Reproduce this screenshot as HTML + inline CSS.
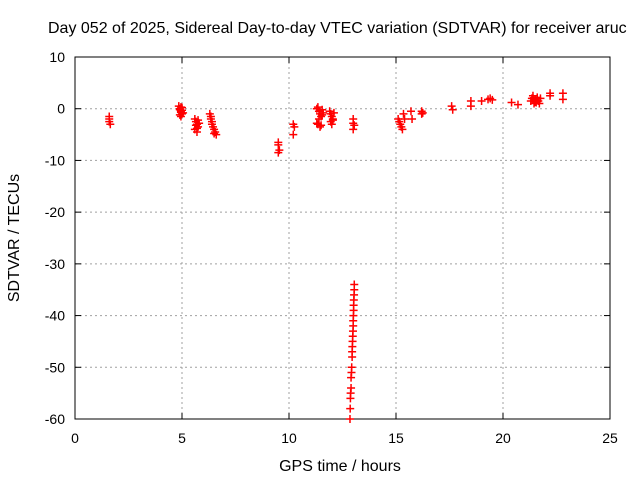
<!DOCTYPE html>
<html><head><meta charset="utf-8"><style>
body{margin:0;background:#fff}
text{font-family:"Liberation Sans",sans-serif;font-size:14px;fill:#000}
text.big{font-size:16px}
</style></head><body>
<svg id="c" width="640" height="480"></svg>
<script>
const xTicks=[0,5,10,15,20,25];
const yTicks=[10,0,-10,-20,-30,-40,-50,-60];
const hours=[1.6,1.6,1.6,1.65,
4.85,4.9,4.95,5.0,4.9,4.95,5.0,5.05,4.9,4.95,5.0,4.95,
5.6,5.65,5.7,5.75,5.6,5.7,5.75,5.65,5.7,5.8,
6.3,6.35,6.4,6.45,6.5,6.55,6.6,6.4,6.5,6.35,
9.5,9.5,9.55,9.5,
10.2,10.25,10.2,
11.3,11.35,11.4,11.45,11.5,11.55,11.6,11.35,11.45,11.5,11.3,11.4,11.55,
11.9,11.95,12.0,12.05,12.1,11.95,12.0,12.05,
13.0,13.0,13.0,13.05,
15.1,15.15,15.2,15.25,15.3,15.4,15.35,
15.7,15.75,16.2,16.2,16.25,
17.6,17.65,18.5,18.5,19.0,19.3,19.4,19.5,20.4,20.7,
21.3,21.35,21.4,21.45,21.5,21.55,21.6,21.65,21.7,21.4,21.5,21.6,21.75,
22.2,22.2,22.8,22.8,
13.05,13.05,13.04,13.03,13.02,13.02,13.01,13.0,13.0,12.99,12.98,12.97,12.96,12.95,12.95,12.93,12.92,12.9,12.9,12.88,12.87,12.86,12.85];
const values=[-1.5,-2,-2.5,-3,
0.5,0,-0.5,-1,-1.2,0.3,-0.3,-0.8,-0.2,-1.5,0.2,-0.7,
-2,-2.5,-3,-3.5,-4,-4.5,-2.2,-3.2,-3.8,-2.8,
-1,-1.5,-2.5,-3.5,-4,-4.5,-5,-3,-4.8,-2,
-6.5,-7,-8,-8.5,
-3,-3.5,-5,
0,0.3,-0.5,-1,-1.5,-0.2,-0.8,-3,-3.5,-3.2,-2.8,-2,-1.2,
-0.5,-1,-1.5,-2,-0.8,-2.5,-3,-2.2,
-2,-2.8,-4,-3.2,
-2,-2.5,-3,-3.5,-4,-2,-1,
-0.5,-2,-0.5,-1,-0.8,
0.5,-0.2,1.5,0.5,1.5,1.8,2,1.7,1.2,0.8,
1.5,2,2.5,1,1.8,1.2,2.2,1.5,1,2,1.3,1.7,2,
3,2.5,3,1.8,
-34,-35,-36,-37,-38,-39,-40,-41,-42,-43,-44,-45,-46,-47,-48,-50,-51,-52,-54,-55,-56,-58,-60];
const L=75,R=610,T=57,B=419;
const X=h=>L+(h-0)/25*(R-L), Y=v=>T+(10-v)/70*(B-T);
const s=document.getElementById('c'),NS='http://www.w3.org/2000/svg';
function mk(t,a,p){const e=document.createElementNS(NS,t);for(const k in a)e.setAttribute(k,a[k]);(p||s).appendChild(e);return e;}
const g=mk('g',{});


xTicks.forEach(t=>{const x=X(t);
 if(t>0&&t<25)mk('line',{x1:x,x2:x,y1:T,y2:B,stroke:'#a0a0a0','stroke-dasharray':'2,3'},g);
 mk('line',{x1:x,x2:x,y1:B,y2:B-6,stroke:'#000'});mk('line',{x1:x,x2:x,y1:T,y2:T+6,stroke:'#000'});
 const tx=mk('text',{x:x,y:B+24,'text-anchor':'middle'});tx.textContent=t;
 
 });
yTicks.forEach(t=>{const y=Y(t);
 if(t<10&&t>-60)mk('line',{x1:L,x2:R,y1:y,y2:y,stroke:'#a0a0a0','stroke-dasharray':'2,3'},g);
 mk('line',{x1:L,x2:L+6,y1:y,y2:y,stroke:'#000'});mk('line',{x1:R,x2:R-6,y1:y,y2:y,stroke:'#000'});
 const tx=mk('text',{x:L-10,y:y+5,'text-anchor':'end'});tx.textContent=t;
 
 });
const fr=mk('rect',{x:L,y:T,width:R-L,height:B-T,fill:'none',stroke:'#000'});


const pts=mk('g',{stroke:'#f00','stroke-width':1.5});


hours.forEach((h,i)=>{const x=X(h),y=Y(values[i]);
 const p=mk('path',{d:`M${x-4},${y}H${x+4}M${x},${y-4}V${y+4}`},pts);
 
 });
const ti=mk('text',{x:48,y:33,class:'big'});ti.textContent='Day 052 of 2025, Sidereal Day-to-day VTEC variation (SDTVAR) for receiver aruc';


const xt=mk('text',{x:340,y:471,'text-anchor':'middle',class:'big'});xt.textContent='GPS time / hours';


const yt=mk('text',{x:0,y:0,'text-anchor':'middle',class:'big',transform:'translate(19,238) rotate(-90)'});yt.textContent='SDTVAR / TECUs';


</script>
</body></html>
